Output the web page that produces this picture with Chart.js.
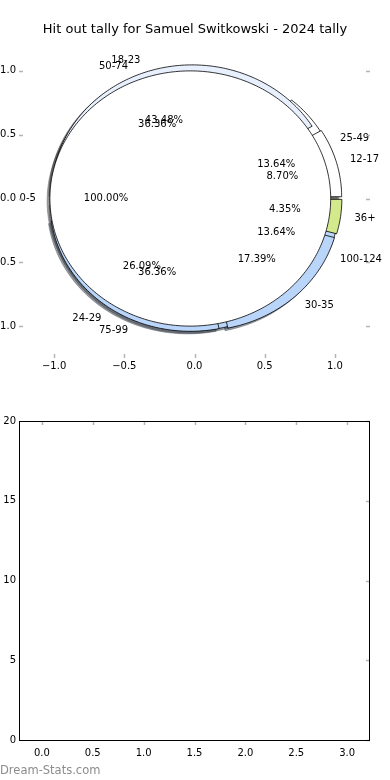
<!DOCTYPE html>
<html>
<head>
<meta charset="utf-8">
<script src="https://cdn.jsdelivr.net/npm/chart.js@4.4.1/dist/chart.umd.min.js"></script>
<style>
    html, body { margin: 0; padding: 0; background: #fff; }
    body { width: 390px; height: 780px; position: relative; overflow: hidden; font-family: "DejaVu Sans", sans-serif; }
    #pieChart { position: absolute; left: 0; top: 0; }
    #emptyChart { position: absolute; left: 0; top: 390px; }
    #watermark { position: absolute; left: 0; top: 763px; font-size: 11.5px; line-height: 14px; color: #8c8c8c; }
</style>
</head>
<body>
<canvas id="pieChart" width="390" height="390"></canvas>
<canvas id="emptyChart" width="390" height="390"></canvas>
<div id="watermark">Dream-Stats.com</div>
<script>
// --- Data ---
const chartTitle = 'Hit out tally for Samuel Switkowski - 2024 tally';

const innerLabels = ['0-5'];
const innerValues = [1];

const ageLabels = ['12-17', '18-23', '24-29', '30-35', '36+'];
const ageValues = [2, 10, 6, 4, 1];

const rangeLabels = ['25-49', '50-74', '75-99', '100-124'];
const rangeValues = [3, 8, 8, 3];

const pieTicks = [-1, -0.5, 0, 0.5, 1];
const emptyXTicks = [0, 0.5, 1, 1.5, 2, 2.5, 3];
const emptyYTicks = [0, 5, 10, 15, 20];

// --- Ring styles (drawn in this order, last one on top) ---
const rings = [
    { labels: rangeLabels, values: rangeValues, colors: ['#ffffff', '#e8f0fe', '#b9d6fa', '#b9d6fa'], radius: 1, width: 0.1, explode: 0.04 },
    { labels: ageLabels, values: ageValues, colors: ['#ffffff', '#e8f0fe', '#b9d6fa', '#b9d6fa', '#d4e98b'], radius: 1, width: 0.1, explode: 0.05 },
    { labels: innerLabels, values: innerValues, colors: ['#ffffff'], radius: 1, width: null, explode: 0.03 }
];
const SHADOW_OFFSET = 0.02;

const FONT = 'DejaVu Sans';

function fmtTick(v) {
    const n = Number(v);
    return (n < 0 ? '\u2212' : '') + Math.abs(n).toFixed(1);
}

function darken(hex) {
    const n = parseInt(hex.slice(1), 16);
    const r = Math.round(((n >> 16) & 255) * 0.3);
    const g = Math.round(((n >> 8) & 255) * 0.3);
    const b = Math.round((n & 255) * 0.3);
    return `rgba(${r}, ${g}, ${b}, 0.5)`;
}

// wedges drawn through the chart's own x/y scales
const piePlugin = {
    id: 'nestedPie',
    afterDatasetsDraw(chart) {
        const ctx = chart.ctx;
        const xs = chart.scales.x, ys = chart.scales.y;
        const px = x => xs.getPixelForValue(x);
        const py = y => ys.getPixelForValue(y);
        const wedges = [];
        const texts = [];

        rings.forEach(ring => {
            const total = ring.values.reduce((a, b) => a + b, 0);
            let start = 0;
            ring.values.forEach((v, i) => {
                const frac = v / total;
                const a1 = start * 2 * Math.PI;
                const a2 = (start + frac) * 2 * Math.PI;
                const mid = (a1 + a2) / 2;
                const cx = ring.explode * Math.cos(mid);
                const cy = ring.explode * Math.sin(mid);
                const r = ring.radius;
                wedges.push({ a1, a2, cx, cy, r, w: ring.width, full: frac >= 1, color: ring.colors[i] });

                const lx = cx + 1.1 * r * Math.cos(mid);
                const ly = cy + 1.1 * r * Math.sin(mid);
                texts.push({ text: ring.labels[i], x: lx, y: ly, align: lx < 0 ? 'right' : 'left' });
                texts.push({
                    text: (frac * 100).toFixed(2) + '%',
                    x: cx + 0.6 * r * Math.cos(mid),
                    y: cy + 0.6 * r * Math.sin(mid),
                    align: 'center'
                });
                start += frac;
            });
        });

        function tracePath(wd, dx, dy) {
            const steps = Math.max(8, Math.ceil((wd.a2 - wd.a1) * 180 / Math.PI));
            ctx.beginPath();
            for (let k = 0; k <= steps; k++) {
                const a = wd.a1 + (wd.a2 - wd.a1) * k / steps;
                const x = px(wd.cx + dx + wd.r * Math.cos(a)), y = py(wd.cy + dy + wd.r * Math.sin(a));
                if (k === 0) ctx.moveTo(x, y); else ctx.lineTo(x, y);
            }
            if (wd.w) {
                const ri = wd.r - wd.w;
                for (let k = steps; k >= 0; k--) {
                    const a = wd.a1 + (wd.a2 - wd.a1) * k / steps;
                    ctx.lineTo(px(wd.cx + dx + ri * Math.cos(a)), py(wd.cy + dy + ri * Math.sin(a)));
                }
            } else if (!wd.full) {
                ctx.lineTo(px(wd.cx + dx), py(wd.cy + dy));
            }
            ctx.closePath();
        }

        ctx.save();
        ctx.lineWidth = 0.8;

        // shadows go under every wedge
        wedges.forEach(wd => {
            tracePath(wd, -SHADOW_OFFSET, -SHADOW_OFFSET);
            ctx.fillStyle = darken(wd.color);
            ctx.strokeStyle = darken(wd.color);
            ctx.fill();
            ctx.stroke();
        });

        ctx.strokeStyle = '#000';
        wedges.forEach(wd => {
            tracePath(wd, 0, 0);
            ctx.fillStyle = wd.color;
            ctx.fill();
            ctx.stroke();
        });

        ctx.fillStyle = '#000';
        ctx.font = '10px "' + FONT + '"';
        ctx.textBaseline = 'middle';
        texts.forEach(t => {
            ctx.textAlign = t.align;
            ctx.fillText(t.text, px(t.x), py(t.y));
        });
        ctx.restore();
    }
};

// title centred on the whole figure width
const figTitle = {
    id: 'figTitle',
    afterDraw(chart, args, opts) {
        const ctx = chart.ctx;
        ctx.save();
        ctx.fillStyle = '#000';
        ctx.font = '13px "' + FONT + '"';
        ctx.textAlign = 'center';
        ctx.textBaseline = 'middle';
        ctx.fillText(opts.text, chart.width / 2, opts.y);
        ctx.restore();
    }
};

// matplotlib-like inner tick marks and frame
const axesDecor = {
    id: 'axesDecor',
    afterDraw(chart, args, opts) {
        const ctx = chart.ctx;
        const a = chart.chartArea;
        const xs = chart.scales.x, ys = chart.scales.y;
        const len = 4;
        ctx.save();
        ctx.strokeStyle = '#b4b4b4';
        ctx.lineWidth = 1.5;
        const sides = opts.sides || [];
        xs.ticks.forEach(t => {
            const x = Math.round(xs.getPixelForValue(t.value)) + 0.5;
            ctx.beginPath();
            if (sides.includes('top')) { ctx.moveTo(x, a.top); ctx.lineTo(x, a.top + len); }
            if (sides.includes('bottom')) { ctx.moveTo(x, a.bottom); ctx.lineTo(x, a.bottom - len); }
            ctx.stroke();
        });
        ys.ticks.forEach(t => {
            const y = Math.round(ys.getPixelForValue(t.value)) + 0.5;
            ctx.beginPath();
            if (sides.includes('left')) { ctx.moveTo(a.left, y); ctx.lineTo(a.left + len, y); }
            if (sides.includes('right')) { ctx.moveTo(a.right, y); ctx.lineTo(a.right - len, y); }
            ctx.stroke();
        });
        if (opts.frame) {
            ctx.strokeStyle = '#000';
            ctx.lineWidth = 1;
            ctx.strokeRect(a.left + 0.5, a.top + 0.5, a.right - a.left - 1, a.bottom - a.top);
        }
        ctx.restore();
    }
};

function linearAxis(min, max, tickList, size, isX, pad) {
    return {
        type: 'linear',
        min: min,
        max: max,
        grid: { display: false, drawTicks: false },
        border: { display: false },
        afterBuildTicks: s => { s.ticks = tickList.map(v => ({ value: v })); },
        afterFit: s => {
            if (isX) s.height = size; else s.width = size;
            s.paddingLeft = 0; s.paddingRight = 0; s.paddingTop = 0; s.paddingBottom = 0;
        },
        ticks: {
            padding: pad,
            color: '#000',
            autoSkip: false,
            maxRotation: 0,
            minRotation: 0,
            font: { family: FONT, size: 10 },
            callback: v => fmtTick(v)
        }
    };
}

// --- Top: nested pie ---
new Chart(document.getElementById('pieChart'), {
    type: 'scatter',
    data: { datasets: [] },
    options: {
        responsive: false,
        animation: false,
        events: [],
        layout: { padding: { left: 0, right: 20, top: 39, bottom: 0 } },
        scales: {
            x: linearAxis(-1.25, 1.25, pieTicks, 32, true, 2),
            y: linearAxis(-1.25, 1.25, pieTicks, 19, false, 3)
        },
        plugins: {
            legend: { display: false },
            tooltip: { enabled: false },
            title: { display: false },
            figTitle: { text: chartTitle, y: 30 },
            axesDecor: { sides: ['bottom', 'left', 'right'], frame: false }
        }
    },
    plugins: [piePlugin, axesDecor, figTitle]
});

// --- Bottom: empty axes ---
const emptyX = linearAxis(-0.225, 3.225, emptyXTicks, 40, true, 7);
const emptyY = linearAxis(0, 20, emptyYTicks, 19, false, 3);
emptyY.ticks.callback = v => String(v);

new Chart(document.getElementById('emptyChart'), {
    type: 'scatter',
    data: { datasets: [] },
    options: {
        responsive: false,
        animation: false,
        events: [],
        layout: { padding: { left: 0, right: 20, top: 31, bottom: 0 } },
        scales: { x: emptyX, y: emptyY },
        plugins: {
            legend: { display: false },
            tooltip: { enabled: false },
            axesDecor: { sides: ['top', 'right'], frame: true }
        }
    },
    plugins: [axesDecor]
});
</script>
</body>
</html>
